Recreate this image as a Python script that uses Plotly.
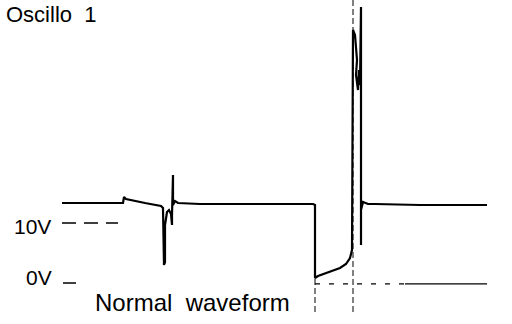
import plotly.graph_objects as go

# Scale: time in arbitrary units (screen-like), voltage in volts
PX_PER_V = 6.0
V_ZERO_ROW = 283.0

def volts(rows):
    return [(V_ZERO_ROW - r) / PX_PER_V for r in rows]

# Main waveform samples (time, level)
wave_t = [62, 123, 124, 126, 145, 161, 163, 164, 165, 165, 167, 169, 171, 172, 172, 173, 173,
          175, 178, 200, 313, 315, 315, 318, 330, 340, 346, 350, 352, 353, 353, 355, 357, 356,
          358, 359, 360, 361, 361, 361, 363, 368, 375, 420, 487]
wave_rows = [203, 203, 197, 199, 203, 206, 208, 265, 262, 225, 212, 210, 214, 225, 215, 175, 205,
             201, 203, 204, 204, 205, 278, 276, 272, 268, 264, 258, 250, 120, 30, 35, 60, 75,
             90, 70, 85, 7, 245, 210, 202, 204, 204, 205, 205]
wave_v = volts(wave_rows)

# Cursor lines
cur1_t = [315, 315]
cur1_rows = [207, 312]
cur2_t = [353, 353]
cur2_rows = [0, 312]

# Reference levels
ref10_t = [62, 118]
ref10_v = [10, 10]
ref0_tick_t = [63, 76]
ref0_line_t = [315, 405]
ref0_solid_t = [405, 487]

fig = go.Figure()
fig.add_trace(go.Scatter(x=wave_t, y=wave_v, mode="lines",
                         line=dict(color="black", width=2.2), hoverinfo="skip"))
fig.add_trace(go.Scatter(x=cur1_t, y=volts(cur1_rows), mode="lines",
                         line=dict(color="black", width=1, dash="6px,3px"), hoverinfo="skip"))
fig.add_trace(go.Scatter(x=cur2_t, y=volts(cur2_rows), mode="lines",
                         line=dict(color="black", width=1, dash="6px,3px"), hoverinfo="skip"))
fig.add_trace(go.Scatter(x=ref10_t, y=ref10_v, mode="lines",
                         line=dict(color="black", width=1.5, dash="14px,8px"), hoverinfo="skip"))
fig.add_trace(go.Scatter(x=ref0_tick_t, y=[0, 0], mode="lines",
                         line=dict(color="black", width=1.5), hoverinfo="skip"))
fig.add_trace(go.Scatter(x=ref0_line_t, y=[-0.15, -0.15], mode="lines",
                         line=dict(color="black", width=1.2, dash="5px,9px"), hoverinfo="skip"))
fig.add_trace(go.Scatter(x=ref0_solid_t, y=[-0.15, -0.15], mode="lines",
                         line=dict(color="black", width=1.2), hoverinfo="skip"))

fam = "Liberation Sans, Arial, sans-serif"
anns = [
    dict(text="Oscillo  1", x=4, y=(V_ZERO_ROW - 14) / PX_PER_V, size=22),
    dict(text="10V", x=12, y=(V_ZERO_ROW - 226) / PX_PER_V, size=21),
    dict(text="0V", x=24, y=(V_ZERO_ROW - 277) / PX_PER_V, size=21),
    dict(text="Normal  waveform", x=93, y=(V_ZERO_ROW - 302) / PX_PER_V, size=24),
]
for a in anns:
    size = a.pop("size")
    fig.add_annotation(xref="x", yref="y", xanchor="left", yanchor="middle", showarrow=False,
                       font=dict(family=fam, size=size, color="black"), **a)

fig.update_layout(
    width=512, height=324, margin=dict(l=0, r=0, t=0, b=0),
    paper_bgcolor="white", plot_bgcolor="white", showlegend=False,
    xaxis=dict(range=[0, 512], visible=False, fixedrange=True),
    yaxis=dict(range=[(V_ZERO_ROW - 324) / PX_PER_V, V_ZERO_ROW / PX_PER_V],
               visible=False, fixedrange=True),
)
fig.write_html("out.html", config={"displayModeBar": False})
